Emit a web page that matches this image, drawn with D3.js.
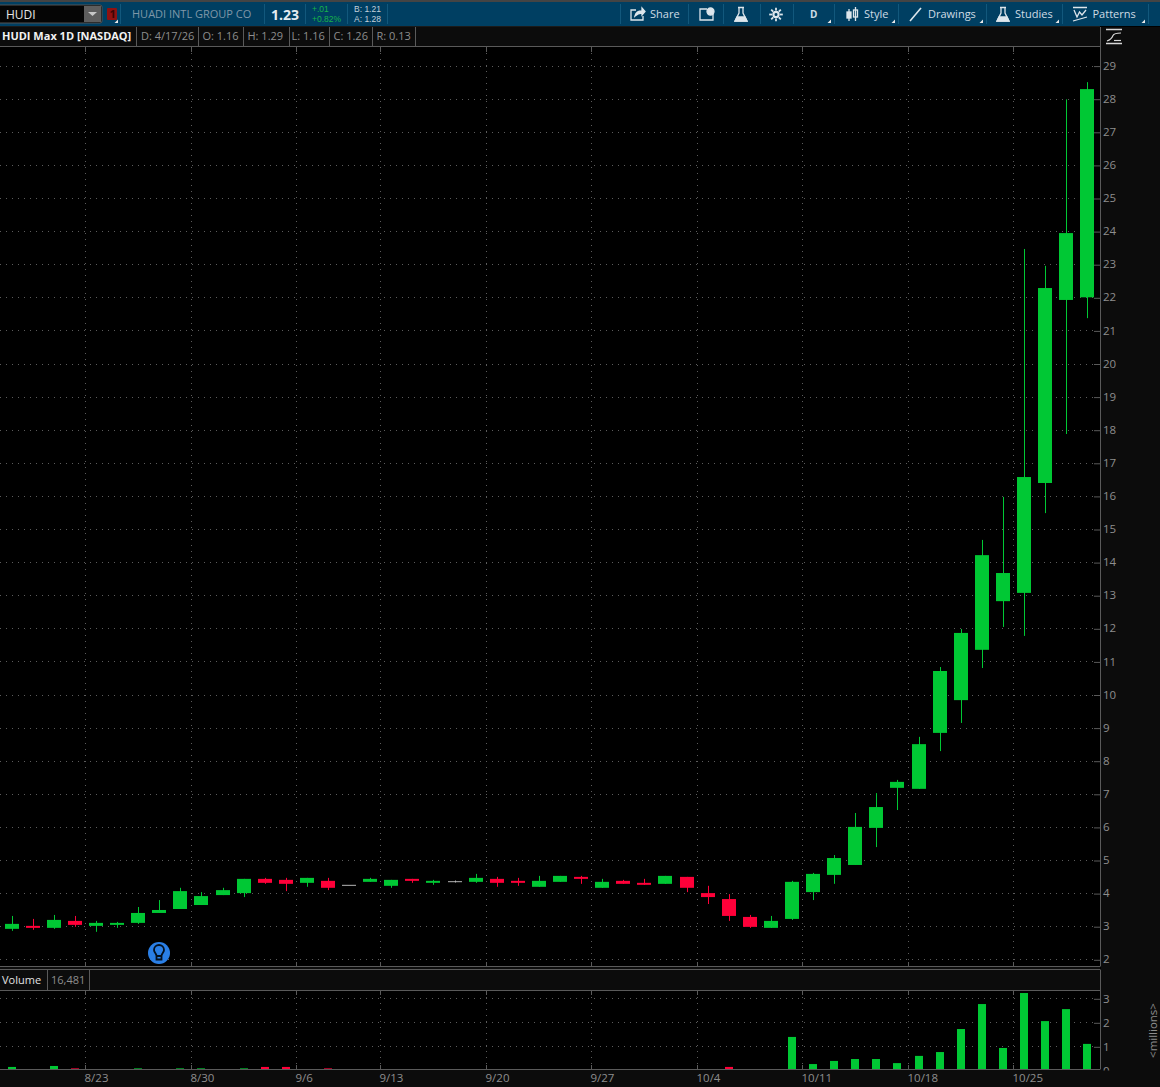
<!DOCTYPE html>
<html>
<head>
<meta charset="utf-8">
<script src="https://cdn.jsdelivr.net/npm/d3@7"></script>
<style>
html, body { margin: 0; padding: 0; background: #000; overflow: hidden; }
svg { display: block; font-family: "Open Sans", sans-serif; }
</style>
</head>
<body>
<script>
// daily bars
var dates = ["8/17","8/18","8/19","8/20","8/23","8/24","8/25","8/26","8/27","8/30","8/31","9/1","9/2","9/3","9/6","9/8","9/9","9/10","9/13","9/14","9/15","9/16","9/17","9/20","9/21","9/22","9/23","9/24","9/27","9/28","9/29","9/30","10/1","10/4","10/5","10/6","10/7","10/8","10/11","10/12","10/13","10/14","10/15","10/18","10/19","10/20","10/21","10/22","10/25","10/26","10/27","10/28"];
var opens = [2.92,3.01,2.95,3.16,3.01,3.04,3.10,3.40,3.52,3.64,3.94,4.00,4.43,4.40,4.31,4.37,4.25,4.34,4.22,4.43,4.31,4.36,4.34,4.43,4.37,4.19,4.34,4.49,4.16,4.37,4.31,4.28,4.49,4.00,3.82,3.28,2.95,3.22,4.03,4.55,4.85,5.97,7.18,7.15,8.84,9.83,11.35,12.82,13.07,16.39,21.92,22.00];
var highs = [3.31,3.22,3.34,3.31,3.16,3.13,3.58,3.79,4.16,4.03,4.16,4.43,4.46,4.46,4.46,4.46,4.25,4.46,4.40,4.43,4.40,4.38,4.58,4.49,4.46,4.52,4.52,4.52,4.43,4.40,4.43,4.52,4.49,4.22,3.97,3.34,3.31,4.37,4.61,5.15,6.42,7.02,7.42,8.72,10.83,11.98,14.67,15.97,23.46,22.95,27.98,28.50];
var lows = [2.86,2.89,2.92,2.98,2.83,2.95,3.07,3.40,3.52,3.64,3.94,3.88,4.28,4.06,4.19,4.09,4.25,4.34,4.16,4.31,4.25,4.32,4.31,4.19,4.22,4.19,4.34,4.28,4.16,4.28,4.25,4.28,4.03,3.67,3.16,2.95,2.95,3.19,3.79,4.28,4.85,5.39,6.51,7.15,8.29,9.14,10.80,12.04,11.77,15.48,17.87,21.37];
var closes = [3.07,2.95,3.19,3.04,3.10,3.10,3.40,3.49,4.06,3.91,4.09,4.43,4.31,4.28,4.46,4.16,4.25,4.43,4.40,4.37,4.37,4.36,4.46,4.31,4.31,4.37,4.52,4.43,4.34,4.28,4.25,4.52,4.16,3.88,3.31,2.98,3.16,4.34,4.58,5.06,6.00,6.60,7.36,8.50,10.71,11.86,14.21,13.67,16.57,22.28,23.94,28.29];
// volume in millions
var volumes = [0.14,0.02,0.18,0.08,0.02,0.02,0.08,0.02,0.08,0.08,0.02,0.08,0.14,0.14,0.02,0.08,0.02,0.02,0.02,0.02,0.02,0.02,0.02,0.02,0.02,0.02,0.02,0.02,0.02,0.02,0.02,0.02,0.02,0.02,0.14,0.02,0.02,1.39,0.26,0.39,0.47,0.47,0.30,0.60,0.76,1.72,2.76,0.93,3.22,2.05,2.55,1.10];

var priceTicks = [2,3,4,5,6,7,8,9,10,11,12,13,14,15,16,17,18,19,20,21,22,23,24,25,26,27,28,29];
var volumeTicks = [0,1,2,3];
var dateTicks = ["8/23","8/30","9/6","9/13","9/20","9/27","10/4","10/11","10/18","10/25"];
var infoCells = ["D: 4/17/26","O: 1.16","H: 1.29","L: 1.16","C: 1.26","R: 0.13"];

var W = 1160, H = 1087;
var GREEN = "#00c834", RED = "#ff0039", FLAT = "#b4b4b4";
var PANEL = "#0c0c0c", LINE = "#5a5a5a", TXT = "#8e8e8e", DOT = "#5c5c5c", TEAL = "#003f62", TEALDIV = "#12587c";

var svg = d3.select("body").append("svg").attr("width", W).attr("height", H);

var x = d3.scaleBand().domain(dates).range([1.14, 1097.8]).paddingInner(0.336).paddingOuter(0.168);
var yPrice = d3.scaleLinear().domain([2, 29]).range([959.3, 65.6]);
var yVol = d3.scaleLinear().domain([0, 3]).range([1070.3, 998.3]);

function gridX(d) { return Math.round(x(d) - x.step() * 0.168 - 0.4) + 0.5; }
function colorOf(i) { return closes[i] > opens[i] ? GREEN : (closes[i] < opens[i] ? RED : FLAT); }
function rect(g, a, b, c, d, fill) {
	return g.append("rect").attr("x", a).attr("y", b).attr("width", c).attr("height", d).attr("fill", fill);
}
function hline(g, y, a, b, col) {
	g.append("line").attr("x1", a).attr("x2", b).attr("y1", y).attr("y2", y).attr("stroke", col || LINE);
}
function vline(g, xx, a, b, col) {
	g.append("line").attr("x1", xx).attr("x2", xx).attr("y1", a).attr("y2", b).attr("stroke", col || LINE);
}
function label(g, s, a, b, size, col, weight) {
	return g.append("text").attr("x", a).attr("y", b).attr("dy", "0.35em")
		.attr("font-size", size).attr("fill", col).attr("font-weight", weight || 400).text(s);
}

// backgrounds
rect(svg, 0, 0, W, H, "#000");
rect(svg, 1101, 27, 59, 1060, PANEL);
rect(svg, 0, 27, W, 19, PANEL);
rect(svg, 0, 967, 1100, 23, PANEL);
rect(svg, 0, 1070, W, 17, PANEL);

// dotted grid
var grid = svg.append("g").attr("stroke", DOT).attr("stroke-width", 1).attr("stroke-dasharray", "1 5");
priceTicks.forEach(function(p) {
	var y = Math.round(yPrice(p)) + 0.5;
	grid.append("line").attr("x1", 0).attr("x2", 1094).attr("y1", y).attr("y2", y);
});
volumeTicks.slice(1).forEach(function(v) {
	var y = Math.round(yVol(v)) + 0.5;
	grid.append("line").attr("x1", 0).attr("x2", 1094).attr("y1", y).attr("y2", y);
});
dateTicks.forEach(function(d) {
	var xx = gridX(d);
	grid.append("line").attr("x1", xx).attr("x2", xx).attr("y1", 47).attr("y2", 966);
	grid.append("line").attr("x1", xx).attr("x2", xx).attr("y1", 991).attr("y2", 1069);
	vline(svg, xx, 47, 52);
	vline(svg, xx, 962, 966);
	vline(svg, xx, 991, 995);
	vline(svg, xx, 1065, 1069);
});

// candles
var candles = svg.append("g").selectAll("g").data(dates).enter().append("g");
candles.append("line")
	.attr("x1", function(d) { return Math.round(x(d) + x.bandwidth() / 2) + 0.5; })
	.attr("x2", function(d) { return Math.round(x(d) + x.bandwidth() / 2) + 0.5; })
	.attr("y1", function(d, i) { return yPrice(highs[i]); })
	.attr("y2", function(d, i) { return yPrice(lows[i]); })
	.attr("stroke", function(d, i) { return colorOf(i); });
candles.append("rect")
	.attr("x", function(d) { return Math.round(x(d)); })
	.attr("width", function() { return Math.round(x.bandwidth()); })
	.attr("y", function(d, i) { return yPrice(Math.max(opens[i], closes[i])); })
	.attr("height", function(d, i) { return Math.max(1, yPrice(Math.min(opens[i], closes[i])) - yPrice(Math.max(opens[i], closes[i]))); })
	.attr("fill", function(d, i) { return colorOf(i); });

// volume bars
var volBarW = 8;
svg.append("g").selectAll("rect").data(dates).enter().append("rect")
	.attr("x", function(d) { return Math.round(x(d) + x.bandwidth() / 2 - volBarW / 2); })
	.attr("width", volBarW)
	.attr("y", function(d, i) { return yVol(volumes[i]); })
	.attr("height", function(d, i) { return yVol(0) - yVol(volumes[i]); })
	.attr("fill", function(d, i) { return colorOf(i); });
rect(svg, 0, 1070, 1100, 17, PANEL);

// axes
var clip = svg.append("defs").append("clipPath").attr("id", "volClip");
clip.append("rect").attr("x", -5).attr("y", 985).attr("width", 60).attr("height", 84.5);

function styleAxis(g) {
	g.select(".domain").remove();
	g.selectAll("line").attr("stroke", LINE);
	g.selectAll("text").attr("fill", TXT).attr("font-size", 11.5).attr("font-family", '"Open Sans", sans-serif');
}
svg.append("g").attr("transform", "translate(1100,0.5)")
	.call(d3.axisLeft(yPrice).tickValues(priceTicks).tickSize(6).tickFormat(""))
	.call(styleAxis);
svg.append("g").attr("transform", "translate(1099,0)")
	.call(d3.axisRight(yPrice).tickValues(priceTicks).tickSize(0).tickPadding(4).tickFormat(d3.format("d")))
	.call(styleAxis);
svg.append("g").attr("transform", "translate(1100,0.5)")
	.call(d3.axisLeft(yVol).tickValues(volumeTicks.slice(1)).tickSize(6).tickFormat(""))
	.call(styleAxis);
svg.append("g").attr("transform", "translate(1099,1)").attr("clip-path", "url(#volClip)")
	.call(d3.axisRight(yVol).tickValues(volumeTicks).tickSize(0).tickPadding(4).tickFormat(d3.format("d")))
	.call(styleAxis);
svg.append("g").attr("transform", "translate(0,1070)")
	.call(d3.axisBottom(x).tickValues(dateTicks).tickSize(0).tickPadding(4))
	.call(styleAxis)
	.selectAll("text")
	.attr("text-anchor", "start")
	.attr("x", function(d) { return gridX(d) - (x(d) + x.bandwidth() / 2) - 1; });

svg.append("text").attr("transform", "translate(1152.5,1030.5) rotate(-90)")
	.attr("text-anchor", "middle").attr("dy", "0.35em").attr("font-size", 11.5).attr("fill", TXT).text("<millions>");

// panel borders
hline(svg, 46.5, 0, 1100);
hline(svg, 966.5, 0, 1100);
hline(svg, 969.5, 0, 1100);
hline(svg, 990.5, 0, 1100);
hline(svg, 1069.5, 0, 1100);
vline(svg, 1100.5, 27, 966.5);
vline(svg, 1100.5, 969.5, 1069.5);

// info row
label(svg, "HUDI Max 1D [NASDAQ]", 2, 36, 11, "#f2f2f2", 700);
var cellX = [141, 202.5, 247.5, 291.5, 333.5, 376.5];
var cellSep = [136.5, 198.5, 243.5, 289.5, 329.5, 372.5, 415.5];
infoCells.forEach(function(s, i) { label(svg, s, cellX[i], 36, 11, TXT); });
cellSep.forEach(function(s) { vline(svg, s, 27, 46); });

// volume row
label(svg, "Volume", 2, 980, 11, "#e2e2e2");
label(svg, "16,481", 51, 980, 11, TXT);
vline(svg, 47.5, 970, 990);
vline(svg, 89.5, 970, 990);

// hint bulb
var bulb = svg.append("g").attr("transform", "translate(159,953)");
bulb.append("circle").attr("r", 11).attr("fill", "#2a7fe6");
bulb.append("path").attr("d", "M-2.5,3 C-2.5,0.5 -5,-0.5 -5,-3 A5,5 0 0 1 5,-3 C5,-0.5 2.5,0.5 2.5,3 Z M-2.5,3 L-2.5,6.5 L2.5,6.5 L2.5,3")
	.attr("fill", "none").attr("stroke", "#04111f").attr("stroke-width", 1.8);

// top toolbar
rect(svg, 0, 0, W, 2, "#444");
rect(svg, 0, 2, W, 24, TEAL);
hline(svg, 26.5, 0, 1100, "#1a1a1a");
rect(svg, -2, 5, 104, 18, "#050505").attr("stroke", "#555").attr("rx", 2);
rect(svg, 84, 6, 17, 16, "#5e5e5e");
svg.append("path").attr("d", "M88,12 L97,12 L92.5,16 Z").attr("fill", "#c8c8c8");
label(svg, "HUDI", 6, 15, 12, "#e6e6e6");
rect(svg, 107, 8, 10, 12, "#8e1212").attr("rx", 1);
label(svg, "1", 109.5, 14.5, 11, "#3a0505", 700);
[120.5, 264.5, 305.5, 347.5, 387.5, 620.5, 688.5, 723.5, 760.5, 793.5, 834.5, 898.5, 986.5, 1062.5, 1148.5].forEach(function(s) {
	vline(svg, s, 4, 24, TEALDIV);
});
label(svg, "HUADI INTL GROUP CO", 132, 14, 11, "#7f97a8");
label(svg, "1.23", 271, 15, 14, "#e4ecf1", 700);
// tighter face here, the two rows sit only 10px apart
label(svg, "+.01", 312, 9, 8.5, "#18b34a").attr("font-family", '"Liberation Sans", sans-serif');
label(svg, "+0.82%", 312, 19, 8.5, "#18b34a").attr("font-family", '"Liberation Sans", sans-serif');
label(svg, "B: 1.21", 354, 9, 8.5, "#c3d0da").attr("font-family", '"Liberation Sans", sans-serif');
label(svg, "A: 1.28", 354, 19, 8.5, "#c3d0da").attr("font-family", '"Liberation Sans", sans-serif');

var toolTxt = "#cfdce5";
label(svg, "Share", 650, 14.5, 11, toolTxt);
label(svg, "D", 810, 14.5, 10, toolTxt, 700);
label(svg, "Style", 864, 14.5, 11, toolTxt);
label(svg, "Drawings", 928, 14.5, 11, toolTxt);
label(svg, "Studies", 1015, 14.5, 11, toolTxt);
label(svg, "Patterns", 1092.5, 14.5, 11, toolTxt);

// toolbar icons
var ic = svg.append("g").attr("fill", "none").attr("stroke", "#dde6ec").attr("stroke-width", 1.3);
ic.append("path").attr("d", "M636,10 L631,10 L631,20 L643,20 L643,16");
ic.append("path").attr("d", "M635,16 C636,12 639,11 642,11 L642,8 L645,11.5 L642,15 L642,13 C639,13 637,14 635,16 Z").attr("fill", "#dde6ec");
ic.append("path").attr("d", "M707,9 L700,9 L700,20 L713,20 L713,14");
ic.append("circle").attr("cx", 710.5).attr("cy", 11.5).attr("r", 3.5).attr("fill", "#dde6ec");
function flask(cx) {
	ic.append("path").attr("d", "M" + (cx - 3) + ",7.5 L" + (cx + 3) + ",7.5 M" + (cx - 2) + ",8 L" + (cx - 2) + ",13 L" + (cx - 6) + ",21 L" + (cx + 6) + ",21 L" + (cx + 2) + ",13 L" + (cx + 2) + ",8");
	ic.append("path").attr("d", "M" + (cx - 4) + ",17 L" + (cx + 4) + ",17 L" + (cx + 6) + ",21 L" + (cx - 6) + ",21 Z").attr("fill", "#dde6ec");
}
flask(741);
flask(1003);
ic.append("circle").attr("cx", 776).attr("cy", 14.5).attr("r", 2.6).attr("stroke-width", 2.2);
d3.range(8).forEach(function(i) {
	var a = i * Math.PI / 4;
	ic.append("line").attr("x1", 776 + 4 * Math.cos(a)).attr("y1", 14.5 + 4 * Math.sin(a))
		.attr("x2", 776 + 6.8 * Math.cos(a)).attr("y2", 14.5 + 6.8 * Math.sin(a)).attr("stroke-width", 1.8);
});
ic.append("path").attr("d", "M849,9 L849,21 M855.5,7 L855.5,21");
rect(ic, 847, 12, 4, 6, "#dde6ec");
rect(ic, 853.5, 10, 4, 7, "none");
ic.append("path").attr("d", "M910,21 L921,8").attr("stroke-width", 1.6);
ic.append("path").attr("d", "M1073,7.5 L1087,7.5 M1073,21 L1087,17 M1074,10 L1077,17 L1079.5,12 L1082,15 L1086,10");
[[831, 23], [895, 23], [983, 23], [1059, 23], [1145, 23], [118, 23]].forEach(function(c) {
	svg.append("path").attr("d", "M" + c[0] + "," + c[1] + " l0,-3.5 l-3.5,3.5 Z").attr("fill", "#e8e8e8");
});

// scale toggle icon, right side
var tog = svg.append("g").attr("fill", "none").attr("stroke", "#d8d8d8").attr("stroke-width", 1.2);
tog.append("path").attr("d", "M1106,29.5 L1122,29.5 M1106,43.5 L1122,43.5").attr("stroke-width", 1.6);
tog.append("path").attr("d", "M1107,41 C1110,40 1112,38 1113,35.5 C1114,33.5 1116,33 1121,33");
hline(tog, 40.5, 1114, 1121, "#d8d8d8");
</script>
</body>
</html>
